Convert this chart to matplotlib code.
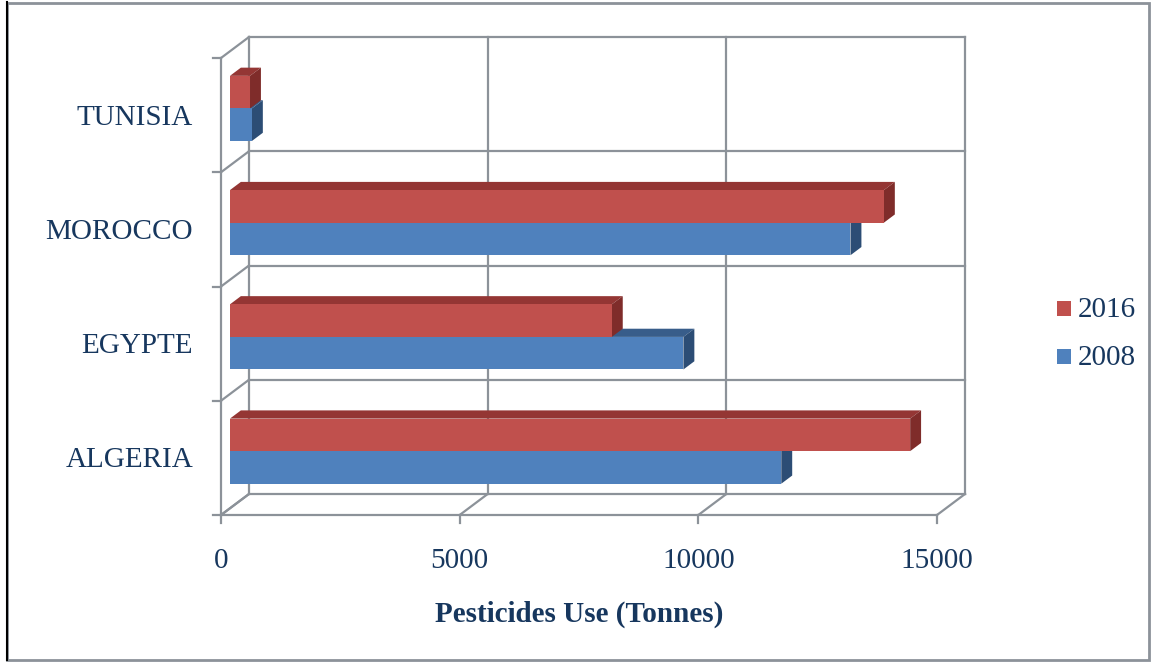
import matplotlib
matplotlib.use("Agg")
import matplotlib.pyplot as plt
from matplotlib.patches import Polygon, Rectangle

countries = ["ALGERIA", "EGYPTE", "MOROCCO", "TUNISIA"]
use_2008 = [11550, 9500, 13000, 460]
use_2016 = [14250, 8000, 13700, 420]
xticks = [0, 5000, 10000, 15000]

plt.rcParams["font.family"] = ["Liberation Serif", "DejaVu Serif"]
TXT = "#17375E"
GRID = "#8C9299"
RED = ("#C0504D", "#943634", "#7F2C2A")   # front, top, side
BLUE = ("#4F81BD", "#385D8A", "#2C4D75")

W, H = 1152, 663
fig = plt.figure(figsize=(W / 100, H / 100), dpi=100)

# front plane of the box, in pixels
x0, x1, ybot, ytop = 221, 937, 515, 58
ax = fig.add_axes([x0 / W, 1 - ybot / H, (x1 - x0) / W, (ybot - ytop) / H])
ax.set_xlim(0, xticks[-1])
ax.set_ylim(0, len(countries))
ax.axis("off")

# depth of the box (back wall shift) in data units
px_x = xticks[-1] / (x1 - x0)
px_y = len(countries) / (ybot - ytop)
dx = 28 * px_x
dy = 21 * px_y


def p(x, y, d):
    return (x + d * dx, y + d * dy)


def line(a, b):
    ax.plot([a[0], b[0]], [a[1], b[1]], color=GRID, lw=1.6, clip_on=False, zorder=1)


n = len(countries)
xmax = xticks[-1]
# back wall
for t in xticks:
    line(p(t, 0, 1), p(t, n, 1))
    line(p(t, 0, 0), p(t, 0, 1))
    line(p(t, 0, 0), (t, -8 * px_y))
for k in range(n + 1):
    line(p(0, k, 1), p(xmax, k, 1))
    line(p(0, k, 0), p(0, k, 1))
    line(p(0, k, 0), (-8 * px_x, k))
line(p(0, 0, 0), p(0, n, 0))
line(p(0, 0, 0), p(xmax, 0, 0))


def bar(v, y0, y1, cols, f0=0.32, f1=0.71):
    front = [p(0, y0, f0), p(v, y0, f0), p(v, y1, f0), p(0, y1, f0)]
    top = [p(0, y1, f0), p(v, y1, f0), p(v, y1, f1), p(0, y1, f1)]
    side = [p(v, y0, f0), p(v, y1, f0), p(v, y1, f1), p(v, y0, f1)]
    for pts, c in ((top, cols[1]), (side, cols[2]), (front, cols[0])):
        ax.add_patch(Polygon(pts, closed=True, fc=c, ec="none", zorder=3, clip_on=False))


h = 0.285
for i in range(n):
    c = i + 0.5
    bar(use_2008[i], c - h, c, BLUE)
    bar(use_2016[i], c, c + h, RED)

pt = 0.72  # points per pixel
for i, name in enumerate(countries):
    ax.annotate(name, (0, i + 0.5), xytext=(-28 * pt, -9.6 * pt), textcoords="offset points",
                ha="right", va="baseline", fontsize=21, color=TXT)
for t in xticks:
    ax.annotate(str(t), (t, 0), xytext=(0, -53 * pt), textcoords="offset points",
                ha="center", va="baseline", fontsize=21, color=TXT)
ax.annotate("Pesticides Use (Tonnes)", (xmax / 2, 0), xytext=(0, -107 * pt),
            textcoords="offset points", ha="center", va="baseline",
            fontsize=21, fontweight="bold", color=TXT)

# legend
for lab, col, base in (("2016", RED[0], 317), ("2008", BLUE[0], 365)):
    fig.add_artist(Rectangle((1057 / W, 1 - (base - 1) / H), 14 / W, 15 / H,
                             transform=fig.transFigure, fc=col, ec="none"))
    fig.text(1078 / W, 1 - base / H, lab, fontsize=21, color=TXT, va="baseline")

# outer frame
fig.add_artist(Rectangle((7 / W, 3 / H), 1142 / W, 657 / H, transform=fig.transFigure,
                         fill=False, ec=GRID, lw=2))
fig.add_artist(plt.Line2D([7 / W, 7 / W], [3 / H, 1 - 2 / H], transform=fig.transFigure,
                          color="black", lw=1.5))

fig.savefig("out.png", dpi=100)
